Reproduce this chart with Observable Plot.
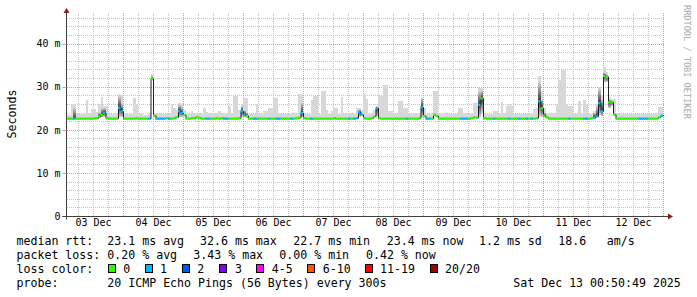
<!DOCTYPE html>
<html><head><meta charset="utf-8">
<script src="https://cdn.jsdelivr.net/npm/d3@7"></script>
<script src="https://cdn.jsdelivr.net/npm/@observablehq/plot@0.6"></script>
<style>
body{margin:0;background:#fff;}
#wrap{position:relative;width:697px;height:297px;overflow:hidden;background:#fff;}
#chart{position:absolute;left:0;top:0;}
#overlay{position:absolute;left:0;top:0;pointer-events:none;}
#overlay text{font-family:"DejaVu Sans Mono",monospace;}
</style></head>
<body><div id="wrap"><div id="chart"></div><svg id="overlay" width="697" height="297"></svg></div>
<script>
// ---------- data (hourly bins starting Dec 3 01:00 UTC) ----------
const median = [
  22.7,22.7,22.7,22.7,22.7,22.7,22.7,22.7,22.7,22.7,22.7,22.8,22.8,23.2,23.6,24.0,22.8,22.7,22.7,22.7,22.7,25.2,24.4,22.7,
  22.7,22.7,22.7,22.7,22.8,22.7,22.7,22.7,22.7,22.7,31.9,23.4,22.7,22.7,22.7,22.7,22.8,22.7,22.7,22.8,23.0,24.4,24.0,23.5,
  22.7,22.7,22.8,22.8,23.0,22.9,22.7,22.7,22.7,22.7,22.7,22.7,22.8,22.7,22.8,22.7,22.7,22.7,22.7,22.7,22.7,22.8,24.4,23.6,
  23.3,22.7,22.7,22.7,22.7,22.7,22.7,22.7,22.7,22.7,22.7,22.7,22.7,22.7,22.7,22.7,22.7,22.7,22.7,22.7,22.8,22.9,24.0,22.8,
  22.7,22.7,22.7,22.7,22.7,22.7,22.7,22.7,22.7,22.7,22.7,22.8,22.7,22.7,22.7,22.7,22.7,22.7,22.7,22.7,22.8,24.2,23.6,22.8,
  22.7,22.7,22.8,23.2,25.1,22.8,22.7,22.7,22.7,22.7,22.7,22.7,22.7,22.7,22.7,22.7,22.7,22.7,22.7,22.7,22.7,22.8,25.3,23.3,
  22.7,22.7,22.7,23.6,23.3,22.7,22.7,22.7,22.7,22.7,22.7,22.7,22.7,22.7,22.7,22.7,22.7,22.7,22.8,23.0,22.9,25.9,27.4,22.8,
  22.7,22.7,22.7,22.7,22.7,22.7,22.7,22.7,22.7,22.7,22.7,22.7,22.7,22.7,22.7,22.7,22.7,22.7,22.7,22.7,22.8,26.7,25.1,23.4,
  23.0,22.7,22.7,22.7,22.7,22.7,22.7,22.7,22.7,22.7,22.7,22.7,22.7,22.7,22.7,22.7,22.7,22.7,22.8,22.9,23.2,26.3,24.4,32.6,
  32.4,26.5,26.5,23.6,22.7,22.7,22.7,22.7,22.7,22.7,22.7,22.7,22.7,22.7,22.7,22.7,22.7,22.7,22.7,22.7,22.7,23.0,23.4,null
];
const loss = [
  0,0,0,1,0,0,0,0,0,0,0,0,0,0,0,1,0,0,0,0,0,1,1,0,
  0,0,0,0,0,0,0,0,0,1,0,0,1,1,1,1,0,1,0,0,0,1,1,0,
  0,0,0,0,0,0,0,0,1,1,0,0,0,0,0,1,1,0,0,0,0,0,1,1,
  0,0,0,1,1,0,0,0,0,1,0,0,1,1,0,0,0,0,1,0,0,0,1,0,
  0,0,1,0,0,0,0,0,0,0,0,0,0,0,0,0,0,1,0,1,1,1,1,0,
  0,0,0,0,1,0,0,0,0,0,0,0,0,0,0,0,1,0,0,0,0,0,1,0,
  1,1,0,0,0,0,0,0,0,0,0,0,0,0,1,1,1,0,0,0,0,1,0,0,
  0,0,0,1,0,0,0,0,0,1,0,0,0,1,0,0,1,0,1,0,0,1,0,0,
  0,0,0,0,0,0,0,0,0,1,0,0,0,0,0,1,1,0,0,1,1,1,1,0,
  0,0,0,0,0,0,0,0,0,0,0,0,0,1,1,1,1,0,0,0,0,0,1,0
];
const smokeMax = [
  23.4,23.5,25.9,25.9,24.0,23.6,23.6,24.0,26.9,24.0,24.8,24.8,24.2,25.9,27.6,25.5,25.5,23.6,23.6,23.8,24.0,28.3,28.0,23.6,
  24.0,23.6,23.6,27.4,26.0,23.6,23.6,23.5,23.5,23.6,33.0,24.0,24.0,23.8,23.6,23.6,23.6,23.6,25.9,25.0,24.5,26.3,26.0,24.5,
  23.8,23.6,24.4,23.8,23.8,24.0,23.7,25.1,24.2,23.8,23.6,23.7,24.0,24.4,24.0,23.6,23.6,25.5,24.0,27.8,27.8,24.5,26.0,27.4,
  27.4,23.6,23.6,23.6,26.0,23.6,23.6,24.3,24.3,25.1,25.1,27.4,27.4,24.0,23.6,23.6,23.6,23.6,23.8,24.0,24.0,28.2,28.2,24.0,
  23.6,23.6,26.8,27.8,27.8,23.6,29.1,29.1,24.5,23.6,24.4,25.1,25.1,23.6,27.6,23.6,24.0,24.0,23.8,23.8,25.0,25.0,24.5,28.2,
  27.2,23.6,24.0,24.5,25.6,27.8,27.8,30.3,30.3,24.3,24.3,23.6,23.6,26.7,26.7,25.1,25.1,23.6,23.6,24.0,24.0,24.0,27.4,25.0,
  23.6,23.6,23.8,29.0,29.0,23.6,23.6,24.0,24.0,23.6,23.6,23.6,23.6,25.0,25.1,23.8,23.8,23.6,24.0,26.3,26.3,29.7,29.7,24.0,
  23.6,23.6,23.6,24.4,24.4,23.6,26.5,24.0,25.5,26.0,25.5,23.6,23.6,23.6,23.6,23.6,23.6,23.6,23.6,24.9,25.0,32.4,29.0,25.0,
  24.0,23.6,23.8,23.8,25.9,31.5,33.8,33.8,26.0,25.5,25.5,23.6,23.6,26.6,23.8,26.8,26.0,23.6,23.8,24.4,26.0,29.9,28.0,34.5,
  33.5,27.5,27.1,27.1,24.0,23.6,23.6,23.6,23.6,23.6,23.6,23.6,23.6,23.6,23.6,23.6,23.7,23.6,23.6,23.6,23.8,25.3,25.3,null
];
// dense smoke: [hour index, low ms, high ms]
const darkSmoke = [
  [3,22.7,25.0],[13,22.8,24.0],[14,22.9,25.0],[15,23.0,25.0],[21,23.0,27.8],[22,23.0,26.0],
  [34,31.5,32.4],[45,23.0,25.8],[46,23.0,25.2],[70,23.0,25.5],[71,22.9,24.5],[72,22.8,24.0],
  [94,22.9,26.3],[117,23.0,24.6],[124,23.2,25.4],[142,23.0,27.4],[165,23.0,29.0],[166,24.0,29.0],
  [189,23.0,31.0],[190,23.0,27.0],[191,22.9,24.0],[211,22.8,24.0],[212,22.9,25.5],[213,23.5,29.5],
  [214,23.2,27.0],[215,31.0,33.2],[216,31.0,32.8],[217,25.0,27.0],[218,25.5,26.8]
];
const lossLabels = ["0","1","2","3","4-5","6-10","11-19","20/20"];
const lossColors = ["#26ff00","#00b8ff","#0059ff","#7e00ff","#ff00ff","#ff5500","#ff0000","#a10000"];
const yTicks = [0,10,20,30,40];
const yTickLabels = ["0","10 m","20 m","30 m","40 m"];
const xTickDays = [3,4,5,6,7,8,9,10,11,12];
const xTickLabels = ["03 Dec","04 Dec","05 Dec","06 Dec","07 Dec","08 Dec","09 Dec","10 Dec","11 Dec","12 Dec"];
const statsRtt = ["23.1 ms avg","32.6 ms max","22.7 ms min","23.4 ms now","1.2 ms sd","18.6","am/s"];
const statsLoss = ["0.20 % avg","3.43 % max","0.00 % min","0.42 % now"];
const probeText = "20 ICMP Echo Pings (56 Bytes) every 300s";
const stampText = "Sat Dec 13 00:50:49 2025";

// ---------- build ----------
const HOUR = 3600e3;
const binStart = Date.UTC(2025,11,3,1,0);
const xStart = new Date(Date.UTC(2025,11,3,1,36));
const xEnd = new Date(Date.UTC(2025,11,13,0,48));
const yTop = 47.1;

const rows = median.map((m,i)=>({i, t0:new Date(binStart+i*HOUR), t1:new Date(binStart+(i+1)*HOUR), med:m, loss:loss[i], hi:smokeMax[i]}))
  .filter(d=>d.med!=null);
const lineRows = rows.map(d=>({t:d.t0, med:d.med}));
lineRows.push({t:rows[rows.length-1].t1, med:rows[rows.length-1].med});
const dark = darkSmoke.map(([i,lo,hi])=>({t0:new Date(binStart+i*HOUR), t1:new Date(binStart+(i+1)*HOUR), lo, hi, med:median[i]}));

const yMinor = d3.range(2,47,2).filter(v=>v%10!==0);
const yMajor = yTicks.filter(v=>v>0);
const xMajor = d3.utcDay.range(new Date(Date.UTC(2025,11,4)), new Date(Date.UTC(2025,11,13,1)));
const xMinor = d3.utcHour.every(6).range(new Date(Date.UTC(2025,11,3,6)), xEnd).filter(d=>d.getUTCHours()!==0);
const xTicks = xTickDays.map((d,k)=>({t:new Date(Date.UTC(2025,11,d,12)), label:xTickLabels[k]}));
const yLab = yTicks.map((v,k)=>({v, label:yTickLabels[k]}));

const minorStyle = {stroke:"#c4c4c4", strokeDasharray:"1,1", shapeRendering:"crispEdges"};
const majorStyle = {stroke:"#dc9a9a", strokeDasharray:"1,1", shapeRendering:"crispEdges"};

const chart = Plot.plot({
  width:697, height:231,
  marginLeft:67, marginRight:32, marginTop:13, marginBottom:15,
  style:{background:"transparent", fontFamily:"DejaVu Sans Mono, monospace", fontSize:"10px", color:"#000"},
  x:{type:"utc", domain:[xStart,xEnd], axis:null},
  y:{domain:[0,yTop], axis:null},
  color:{type:"identity"},
  marks:[
    Plot.ruleY(yMinor, minorStyle),
    Plot.ruleX(xMinor, minorStyle),
    Plot.ruleY(yMajor, majorStyle),
    Plot.ruleX(xMajor, majorStyle),
    Plot.rect(rows, {x1:"t0", x2:"t1", y1:"med", y2:"hi", fill:"#d8d8d8", clip:true, shapeRendering:"crispEdges"}),
    Plot.rect(dark.filter(d=>d.lo<d.med), {x1:"t0", x2:"t1", y1:"lo", y2:"med", fill:"url(#smokeDown)", clip:true, shapeRendering:"crispEdges"}),
    Plot.rect(dark.filter(d=>d.hi>d.med), {x1:"t0", x2:"t1", y1:d=>Math.max(d.med,d.lo), y2:"hi", fill:"url(#smokeUp)", clip:true, shapeRendering:"crispEdges"}),
    Plot.line(lineRows, {x:"t", y:"med", curve:"step-after", stroke:"#202020", strokeWidth:1, clip:true}),
    Plot.ruleY(rows, {y:"med", x1:"t0", x2:"t1", stroke:d=>lossColors[d.loss], strokeWidth:2.3, clip:true}),
    Plot.text(yLab, {y:"v", text:"label", frameAnchor:"left", textAnchor:"end", dx:-7, fontSize:10, fill:"#000"}),
    Plot.text(xTicks, {x:"t", text:"label", frameAnchor:"bottom", dy:9, fontSize:10, fill:"#000"})
  ]
});
document.getElementById("chart").appendChild(chart);
d3.select(chart).insert("defs",":first-child").html(
  '<linearGradient id="smokeUp" x1="0" y1="1" x2="0" y2="0"><stop offset="0" stop-color="#3c3c3c"/><stop offset="1" stop-color="#cfcfcf"/></linearGradient>'+
  '<linearGradient id="smokeDown" x1="0" y1="0" x2="0" y2="1"><stop offset="0" stop-color="#3c3c3c"/><stop offset="1" stop-color="#d0d0d0"/></linearGradient>');

// ---------- overlay: axes, arrows, labels, legend ----------
const xs = chart.scale("x"), ys = chart.scale("y");
const ax = Math.round(xs.apply(xStart)) - 0.5;
const ay = Math.round(ys.apply(0)) + 0.5;
const xr = Math.round(xs.apply(xEnd));
const yt = Math.round(ys.apply(yTop));
const ov = d3.select("#overlay");
ov.append("line").attr("x1",ax).attr("x2",ax).attr("y1",ay+3).attr("y2",yt-1).attr("stroke","#404040").attr("stroke-width",1);
ov.append("line").attr("x1",ax-4).attr("x2",xr+3).attr("y1",ay).attr("y2",ay).attr("stroke","#404040").attr("stroke-width",1);
ov.append("path").attr("d",`M${ax},${yt-5}L${ax-3},${yt}L${ax+3},${yt}Z`).attr("fill","#8b1c1c");
ov.append("path").attr("d",`M${xr+8},${ay}L${xr+3},${ay-3}L${xr+3},${ay+3}Z`).attr("fill","#8b1c1c");
yMajor.concat([0]).forEach(v=>{
  const y = Math.round(ys.apply(v))+0.5;
  ov.append("line").attr("x1",ax-4).attr("x2",ax).attr("y1",y).attr("y2",y).attr("stroke",v===0?"#404040":"#dc9a9a");
});

ov.append("text").attr("transform","translate(16,114) rotate(-90)").attr("text-anchor","middle")
  .attr("font-size","11.6px").attr("fill","#000").text("Seconds");
ov.append("text").attr("transform","translate(684,5) rotate(90)").attr("text-anchor","start")
  .attr("font-size","8.6px").attr("fill","#a8a8a8").text("RRDTOOL / TOBI OETIKER");

const fs = "11.6px";
function t(x,y,s){ov.append("text").attr("x",x).attr("y",y).attr("font-size",fs).attr("fill","#000").style("white-space","pre").text(s);}
const b = [244.6, 258.6, 272.6, 286.5];
t(16.5,b[0],"median rtt:");
[107.3,200,293.3,386.7,479,558.3,606.7].forEach((x,k)=>t(x,b[0],statsRtt[k]));
t(16.5,b[1],"packet loss:");
[107.3,193.3,279.3,366].forEach((x,k)=>t(x,b[1],statsLoss[k]));
t(16.5,b[2],"loss color:");
const sqX = [108.5,145.5,182.5,219.5,256.5,307.5,365.5,430.5];
const lbX = [123.3,160,197.3,235,271.7,322.7,380,445];
lossLabels.forEach((l,k)=>{
  ov.append("rect").attr("x",sqX[k]).attr("y",264.5).attr("width",7).attr("height",8).attr("fill",lossColors[k]).attr("stroke","#000").attr("stroke-width",1);
  t(lbX[k],b[2],l);
});
t(16.5,b[3],"probe:");
t(107.3,b[3],probeText);
t(513.3,b[3],stampText);
</script></body></html>
